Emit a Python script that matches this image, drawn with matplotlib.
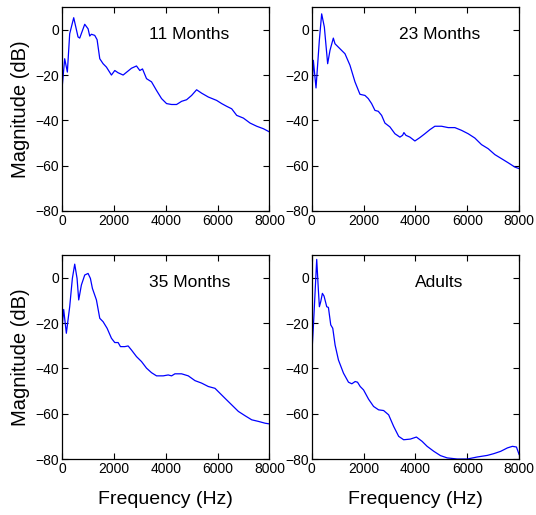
import matplotlib
matplotlib.use('Agg')
import matplotlib.pyplot as plt

plt.rcParams['font.family'] = ['Liberation Sans', 'DejaVu Sans']

# Spectra, frequency in Hz and magnitude in dB
f_11m = [0, 103, 206, 296, 451, 618, 683, 876, 1005, 1069, 1134, 1262, 1353, 1456, 1584,
         1713, 1906, 2035, 2164, 2357, 2550, 2679, 2872, 3001, 3104, 3259, 3452, 3645,
         3839, 4032, 4225, 4418, 4612, 4805, 4998, 5191, 5384, 5642, 5964, 6157, 6350,
         6544, 6737, 6995, 7253, 7510, 7768, 8000]
m_11m = [-26, -12.8, -18.7, -1.8, 5.3, -3.2, -3.7, 2.4, 0.4, -2.8, -2, -2.5, -4.4, -12.8, -15,
         -16.5, -20, -18, -19, -20, -18.2, -17, -16, -18, -17.3, -21.6, -23, -26.8,
         -30.4, -32.6, -33, -33, -31.6, -30.9, -29, -26.5, -28, -29.7, -31.2, -32.6, -33.8,
         -34.9, -37.8, -39, -41.2, -42.6, -43.7, -45.1]

f_23m = [0, 64, 167, 295, 385, 488, 616, 706, 835, 899, 1091, 1284, 1477, 1669, 1862, 2055,
         2183, 2311, 2440, 2568, 2697, 2825, 3018, 3210, 3403, 3506, 3557, 3634, 3788,
         3981, 4173, 4366, 4559, 4751, 5008, 5265, 5522, 5778, 6035, 6292, 6549, 6806,
         7063, 7320, 7576, 7833, 8000]
m_23m = [-31, -13.5, -25.7, -4.7, 7, 1.2, -15, -9.1, -3.7, -6.2, -8.4, -10.6, -15.7, -23, -28.5, -29,
         -30.4, -32.6, -35.6, -36, -37.8, -41.2, -42.9, -45.9, -47.4, -46.6, -45.4, -46.6, -47.4,
         -49.1, -47.6, -45.9, -44.1, -42.6, -42.6, -43.2, -43.2, -44.4, -45.9, -47.8, -50.7, -52.5,
         -55.1, -56.9, -58.7, -60.6, -61.3]

f_35m = [0, 64, 167, 296, 399, 490, 580, 644, 747, 876, 1005, 1095, 1172, 1327, 1456, 1584,
         1739, 1906, 2035, 2164, 2254, 2422, 2550, 2679, 2872, 3066, 3259, 3452, 3645,
         3903, 4096, 4225, 4354, 4612, 4870, 5127, 5384, 5642, 5900, 6093, 6286, 6544,
         6802, 7060, 7317, 7575, 7833, 8000]
m_35m = [-22.3, -14, -24.5, -12.8, -0.3, 6, -0.3, -9.8, -3.2, 1.2, 1.9, -0.3, -4.7, -9.8, -17.9, -19.4,
         -22.3, -26.7, -28.6, -28.6, -30.4, -30.4, -30.1, -31.9, -34.8, -37, -39.9, -41.9, -43.3,
         -43.3, -42.9, -43.3, -42.4, -42.4, -43.3, -45.4, -46.5, -48, -48.8, -51, -53.2, -56.1,
         -59, -60.9, -62.7, -63.4, -64.2, -64.5]

f_adult = [0, 65, 129, 194, 258, 297, 348, 413, 477, 581, 645, 735, 813, 903, 1032, 1226, 1419,
           1548, 1677, 1768, 1871, 2000, 2194, 2387, 2581, 2774, 2968, 3161, 3355, 3548,
           3806, 4039, 4258, 4452, 4710, 4968, 5226, 5613, 6000, 6387, 6774, 7032, 7290,
           7548, 7742, 7897, 8000]
m_adult = [-34.8, -21.6, -6.9, 8.1, -5.4, -12.8, -10.6, -6.9, -8.1, -12.8, -13.1, -20.8, -22.3, -29.7, -36.3, -42.1, -46.1,
           -46.8, -45.8, -46.1, -48, -49.5, -53.6, -56.8, -58.3, -58.6, -60.5, -65.6, -70, -71.5,
           -71.2, -70.3, -72.2, -74.4, -76.6, -78.5, -79.5, -80, -80, -79.1, -78.4, -77.6, -76.6,
           -75.1, -74.4, -74.7, -78]

titles = ['11 Months', '23 Months', '35 Months', 'Adults']
x_ticks = [0, 2000, 4000, 6000, 8000]
y_ticks = [-80, -60, -40, -20, 0]

fig = plt.figure(figsize=(5.36, 5.15), dpi=100)
boxes = [[0.1157, 0.5903, 0.387, 0.396],
         [0.5815, 0.5903, 0.387, 0.396],
         [0.1157, 0.1087, 0.387, 0.396],
         [0.5815, 0.1087, 0.387, 0.396]]
series = [(f_11m, m_11m), (f_23m, m_23m), (f_35m, m_35m), (f_adult, m_adult)]

for i, (box, (f, m), title) in enumerate(zip(boxes, series, titles)):
    ax = fig.add_axes(box)
    ax.plot(f, m, color='#0000ff', lw=0.9)
    ax.set_xlim(0, 8000)
    ax.set_ylim(-80, 10)
    ax.set_xticks(x_ticks)
    ax.set_yticks(y_ticks)
    ax.tick_params(direction='in', top=True, right=True, length=4, width=0.8,
                   labelsize=10, pad=2)
    for s in ax.spines.values():
        s.set_linewidth(0.9)
    ax.text(0.615, 0.865, title, transform=ax.transAxes, ha='center', va='center',
            fontsize=12.5)
    if i % 2 == 0:
        ax.set_ylabel('Magnitude (dB)', fontsize=14.5, labelpad=4)
    if i >= 2:
        ax.set_xlabel('Frequency (Hz)', fontsize=14, labelpad=11)

fig.savefig('out.png', dpi=100)
